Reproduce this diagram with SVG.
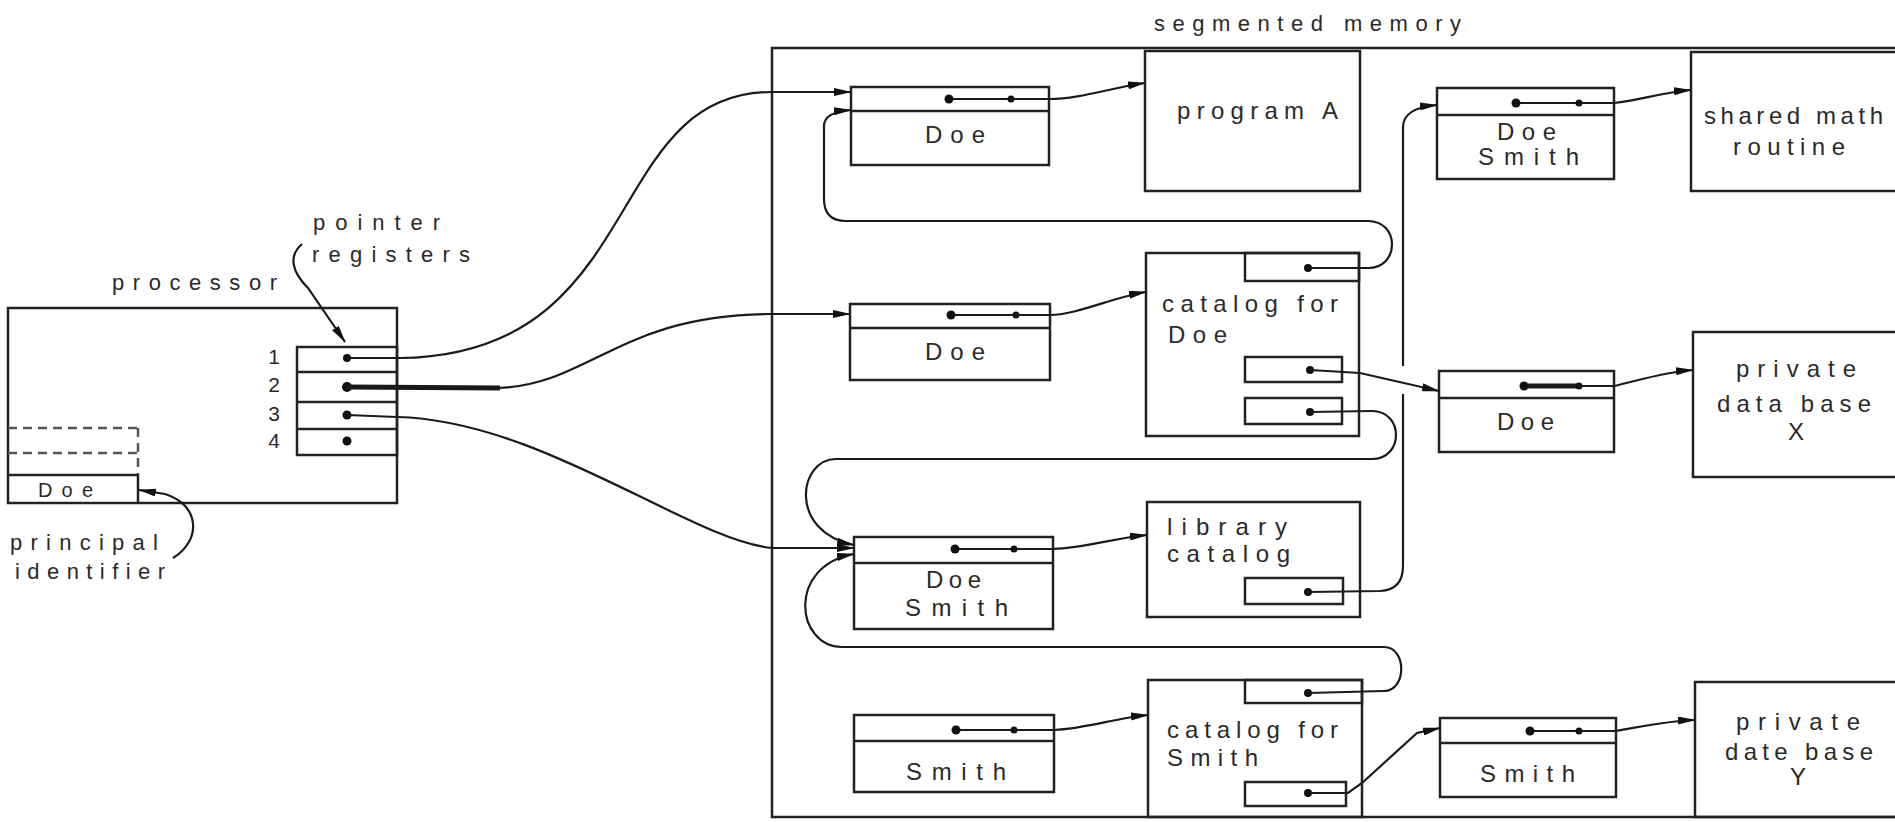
<svg xmlns="http://www.w3.org/2000/svg" width="1895" height="822" viewBox="0 0 1895 822">
<defs>
<marker id="ah" viewBox="0 0 18 8" refX="17" refY="4" markerWidth="18" markerHeight="8" markerUnits="userSpaceOnUse" orient="auto"><path d="M0,0 L18,4 L0,8 z" fill="#111"/></marker>
</defs>
<style>
.box{fill:none;stroke:#222;stroke-width:2.5}
.ln{fill:none;stroke:#1a1a1a;stroke-width:2.2}
.thick{fill:none;stroke:#1a1a1a;stroke-width:5}
.dash{fill:none;stroke:#555;stroke-width:2.5;stroke-dasharray:9 6}
.dot{fill:#111}
.t{font-family:"Liberation Sans",Arial,sans-serif;font-size:24px;fill:#2a2a2a}
.l{font-family:"Liberation Sans",Arial,sans-serif;font-size:22px;fill:#2a2a2a}
.n{font-family:"Liberation Sans",Arial,sans-serif;font-size:21px;fill:#2a2a2a;text-anchor:middle}
</style>
<rect x="0" y="0" width="1895" height="822" fill="#fff"/>

<g id="processor">
<rect class="box" x="8" y="308" width="389" height="195"/>
<text class="l" x="112" y="290" textLength="165">processor</text>
<rect class="box" x="297" y="347" width="100" height="108"/>
<line class="box" x1="297" y1="372" x2="397" y2="372"/>
<line class="box" x1="297" y1="402" x2="397" y2="402"/>
<line class="box" x1="297" y1="429" x2="397" y2="429"/>
<circle class="dot" cx="347" cy="358" r="4"/>
<circle class="dot" cx="347" cy="387" r="5"/>
<circle class="dot" cx="347" cy="415" r="4.5"/>
<circle class="dot" cx="347" cy="441" r="4.5"/>
<text class="n" x="274" y="364">1</text>
<text class="n" x="274" y="392">2</text>
<text class="n" x="274" y="421">3</text>
<text class="n" x="274" y="448">4</text>
<line class="dash" x1="8" y1="428" x2="138" y2="428"/>
<line class="dash" x1="8" y1="453" x2="138" y2="453"/>
<line class="dash" x1="138" y1="428" x2="138" y2="475"/>
<line class="box" x1="8" y1="475" x2="138" y2="475"/>
<line class="box" x1="138" y1="475" x2="138" y2="503"/>
<text class="l" x="38" y="497" textLength="55" style="font-size:20px">Doe</text>
</g>

<g id="labels">
<text class="l" x="313" y="230" textLength="127">pointer</text>
<text class="l" x="312" y="262" textLength="158">registers</text>
<text class="l" x="10" y="550" textLength="148">principal</text>
<text class="l" x="15" y="579" textLength="150">identifier</text>
</g>

<g id="segmented-memory">
<rect class="box" x="772" y="48" width="1200" height="769"/>
<text class="l" x="1154" y="31" textLength="307">segmented memory</text>
</g>

<g id="doe1">
<rect class="box" x="851" y="87" width="198" height="78"/>
<line class="box" x1="851" y1="111" x2="1049" y2="111"/>
<line class="ln" x1="949" y1="99" x2="1011" y2="99"/>
<circle class="dot" cx="949" cy="99" r="4.5"/><circle class="dot" cx="1011" cy="99" r="3.5"/>
<text class="t" x="925" y="143" textLength="60">Doe</text>
</g>
<g id="programA">
<rect class="box" x="1145" y="51" width="215" height="140"/>
<text class="t" x="1177" y="119" textLength="161">program A</text>
</g>
<g id="doe2">
<rect class="box" x="850" y="304" width="200" height="76"/>
<line class="box" x1="850" y1="328" x2="1050" y2="328"/>
<line class="ln" x1="951" y1="315" x2="1016" y2="315"/>
<circle class="dot" cx="951" cy="315" r="4.5"/><circle class="dot" cx="1016" cy="315" r="3.5"/>
<text class="t" x="925" y="360" textLength="60">Doe</text>
</g>
<g id="catalogDoe">
<rect class="box" x="1146" y="253" width="213" height="183"/>
<rect class="box" x="1245" y="253" width="114" height="28"/>
<rect class="box" x="1245" y="357" width="97" height="25"/>
<rect class="box" x="1245" y="398" width="97" height="26"/>
<circle class="dot" cx="1308" cy="268" r="4"/>
<circle class="dot" cx="1310" cy="370" r="4"/>
<circle class="dot" cx="1310" cy="412" r="4"/>
<text class="t" x="1162" y="312" textLength="176">catalog for</text>
<text class="t" x="1168" y="343" textLength="59">Doe</text>
</g>
<g id="doeSmithL">
<rect class="box" x="854" y="537" width="199" height="92"/>
<line class="box" x1="854" y1="563" x2="1053" y2="563"/>
<line class="ln" x1="955" y1="549" x2="1014" y2="549"/>
<circle class="dot" cx="955" cy="549" r="4.5"/><circle class="dot" cx="1014" cy="549" r="3.5"/>
<text class="t" x="926" y="588" textLength="55">Doe</text>
<text class="t" x="905" y="616" textLength="103">Smith</text>
</g>
<g id="libraryCatalog">
<rect class="box" x="1147" y="502" width="213" height="115"/>
<rect class="box" x="1245" y="578" width="98" height="26"/>
<circle class="dot" cx="1308" cy="592" r="4"/>
<text class="t" x="1167" y="535" textLength="120">library</text>
<text class="t" x="1167" y="562" textLength="123">catalog</text>
</g>
<g id="smithL">
<rect class="box" x="854" y="715" width="200" height="77"/>
<line class="box" x1="854" y1="741" x2="1054" y2="741"/>
<line class="ln" x1="956" y1="730" x2="1014" y2="730"/>
<circle class="dot" cx="956" cy="730" r="4.5"/><circle class="dot" cx="1014" cy="730" r="3.5"/>
<text class="t" x="906" y="780" textLength="100">Smith</text>
</g>
<g id="catalogSmith">
<rect class="box" x="1148" y="680" width="214" height="137"/>
<rect class="box" x="1245" y="680" width="117" height="23"/>
<rect class="box" x="1245" y="782" width="101" height="24"/>
<circle class="dot" cx="1308" cy="693" r="4"/>
<circle class="dot" cx="1308" cy="793" r="4"/>
<text class="t" x="1167" y="738" textLength="171">catalog for</text>
<text class="t" x="1167" y="766" textLength="91">Smith</text>
</g>
<g id="doeSmithR">
<rect class="box" x="1437" y="88" width="177" height="91"/>
<line class="box" x1="1437" y1="115" x2="1614" y2="115"/>
<line class="ln" x1="1516" y1="103" x2="1579" y2="103"/>
<circle class="dot" cx="1516" cy="103" r="4.5"/><circle class="dot" cx="1579" cy="103" r="3.5"/>
<text class="t" x="1497" y="140" textLength="59">Doe</text>
<text class="t" x="1478" y="165" textLength="101">Smith</text>
</g>
<g id="sharedMath">
<rect class="box" x="1691" y="52" width="300" height="139"/>
<text class="t" x="1704" y="124" textLength="179">shared math</text>
<text class="t" x="1733" y="155" textLength="112">routine</text>
</g>
<g id="doeR">
<rect class="box" x="1439" y="371" width="175" height="81"/>
<line class="box" x1="1439" y1="398" x2="1614" y2="398"/>
<line class="thick" x1="1524" y1="386" x2="1579" y2="386"/>
<circle class="dot" cx="1524" cy="386" r="4.5"/><circle class="dot" cx="1579" cy="386" r="3.5"/>
<text class="t" x="1497" y="430" textLength="57">Doe</text>
</g>
<g id="privateX">
<rect class="box" x="1693" y="332" width="300" height="145"/>
<text class="t" x="1736" y="377" textLength="120">private</text>
<text class="t" x="1717" y="412" textLength="154">data base</text>
<text class="t" x="1788" y="440">X</text>
</g>
<g id="smithR">
<rect class="box" x="1440" y="718" width="176" height="79"/>
<line class="box" x1="1440" y1="743" x2="1616" y2="743"/>
<line class="ln" x1="1530" y1="731" x2="1579" y2="731"/>
<circle class="dot" cx="1530" cy="731" r="4.5"/><circle class="dot" cx="1579" cy="731" r="3.5"/>
<text class="t" x="1480" y="782" textLength="95">Smith</text>
</g>
<g id="privateY">
<rect class="box" x="1695" y="682" width="300" height="135"/>
<text class="t" x="1736" y="730" textLength="124">private</text>
<text class="t" x="1725" y="760" textLength="148">date base</text>
<text class="t" x="1790" y="785">Y</text>
</g>

<g id="connectors">
<path class="ln" d="M347,358 L400,358 C650,355 600,92 772,92 L851,92" marker-end="url(#ah)"/>
<path class="thick" d="M347,387 L500,388"/>
<path class="ln" d="M498,388 C590,385 620,314 772,314 L850,314" marker-end="url(#ah)"/>
<path class="ln" d="M347,415 L397,417 C540,420 690,540 772,548 L854,548" marker-end="url(#ah)"/>
<path class="ln" d="M302,244 C288,256 292,272 308,288 L345,342" marker-end="url(#ah)"/>
<path class="ln" d="M173,558 C202,540 200,505 165,494 L139,490" marker-end="url(#ah)"/>
<path class="ln" d="M1011,99 L1049,99 C1080,99 1110,88 1145,83" marker-end="url(#ah)"/>
<path class="ln" d="M1016,315 L1050,315 C1080,314 1110,298 1146,292" marker-end="url(#ah)"/>
<path class="ln" d="M1014,549 L1053,549 C1085,548 1115,538 1147,535" marker-end="url(#ah)"/>
<path class="ln" d="M1014,730 L1054,730 C1085,729 1115,718 1148,715" marker-end="url(#ah)"/>
<path class="ln" d="M1579,103 L1614,103 C1640,100 1665,92 1691,90" marker-end="url(#ah)"/>
<path class="ln" d="M1579,386 L1614,386 C1640,380 1665,372 1693,370" marker-end="url(#ah)"/>
<path class="ln" d="M1579,731 L1616,731 C1640,727 1665,721 1695,720" marker-end="url(#ah)"/>
<path class="ln" d="M1308,268 L1368,268 C1400,268 1400,221 1368,221 L846,221 Q824,221 824,199 L824,126 Q824,112 851,110" marker-end="url(#ah)"/>
<path class="ln" d="M1310,370 L1360,373 L1439,391" marker-end="url(#ah)"/>
<path class="ln" d="M1310,412 L1372,411 C1404,411 1404,459 1372,459 L836,459 C798,459 788,532 854,545" marker-end="url(#ah)"/>
<path class="ln" d="M1308,592 L1380,591 Q1403,590 1403,566 L1403,394"/>
<path class="ln" d="M1403,366 L1403,127 Q1403,108 1437,105" marker-end="url(#ah)"/>
<path class="ln" d="M1308,693 L1384,691 C1407,691 1407,647 1384,647 L842,647 C796,647 786,566 854,554" marker-end="url(#ah)"/>
<path class="ln" d="M1308,793 L1348,793 L1362,783 L1417,733 L1440,728" marker-end="url(#ah)"/>
</g>
</svg>
